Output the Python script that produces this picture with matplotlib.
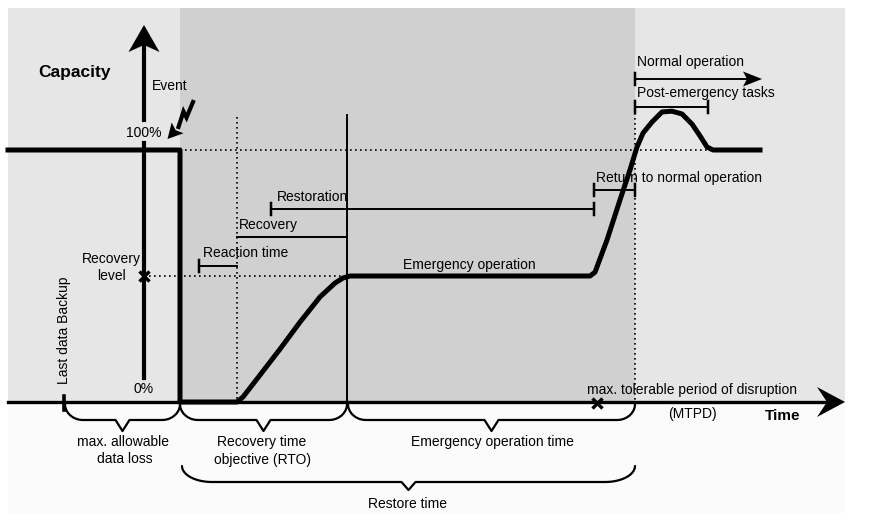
"""Business continuity timeline: capacity over time after an event."""

import numpy as np
import matplotlib as mpl
import matplotlib.pyplot as plt
from matplotlib.patches import Polygon, Rectangle

mpl.rcParams.update({
    "font.family": ["Liberation Sans", "DejaVu Sans"],
    "font.size": 10,
})

# ── data ──────────────────────────────────────────────────────────────
# time positions along the axis (px from the left of the picture)
T_START = 8
T_BACKUP = 64
T_EVENT = 180
T_REACT_START = 199
T_REACTION = 237
T_RESTORE_START = 271
T_RTO = 347
T_EMERG_END = 594
T_MTPD = 635
T_POST_END = 708
T_NORMAL_END = 762
T_AXIS_END = 845

CAP_FULL = 100
CAP_RECOVERY = 50

# capacity curve (time, capacity %)
CURVE_T = [8, 180, 180, 237, 243, 260, 280, 300, 320, 335, 343, 350,
           590, 595, 607, 620, 630, 637, 643, 652, 662, 672, 682, 692,
           700, 707, 713, 760]
CURVE_CAP = [100, 100, 0, 0, 2, 10.7, 21, 31.7, 41.7, 47.2, 49.2, 50,
             50, 51.5, 64.3, 80.2, 92.1, 101.2, 106.7, 111.1, 115.1, 115.4,
             114.3, 110.3, 105.6, 101.2, 100, 100]

# layout (px)
AXIS_Y = 402
PX_PER_PCT = 2.52
TOP = 8
Y_AXIS_X = 144
W, H = 876, 521


def cy(c):
    return AXIS_Y - np.asarray(c, dtype=float) * PX_PER_PCT


def head(ax, tip, d, length, half, notch, color="black"):
    d = np.asarray(d, float) / np.hypot(*d)
    n = np.array([-d[1], d[0]])
    tip = np.asarray(tip, float)
    base = tip - d * length
    pts = [tip, base + n * half, tip - d * (length - notch), base - n * half]
    ax.add_patch(Polygon(pts, closed=True, color=color, lw=0, zorder=6))


def brace(ax, x0, x1, y0, h, r, tip, v, lw=1.6):
    xm = (x0 + x1) / 2
    th = np.linspace(0, np.pi / 2, 30)
    lx = x0 + r * (1 - np.cos(th))
    ly = y0 + h * np.sin(th)
    rx = x1 - r * (1 - np.cos(th))
    xs = np.concatenate([lx, [xm - v, xm, xm + v], rx[::-1]])
    ys = np.concatenate([ly, [y0 + h, y0 + h + tip, y0 + h], ly[::-1]])
    ax.plot(xs, ys, color="black", lw=lw, solid_capstyle="round", zorder=5)


def bracket(ax, x0, x1, y, left=True, right=True, lw=1.4, t=6):
    ax.plot([x0, x1], [y, y], color="black", lw=lw, zorder=5)
    if left:
        ax.plot([x0, x0], [y - t, y + t], color="black", lw=lw + 0.4, zorder=5)
    if right:
        ax.plot([x1, x1], [y - t, y + t], color="black", lw=lw + 0.4, zorder=5)


def main():
    fig = plt.figure(figsize=(W / 100, H / 100), dpi=100)
    ax = fig.add_axes([0, 0, 1, 1])
    ax.set_xlim(0, W)
    ax.set_ylim(H, 0)
    ax.axis("off")

    # backgrounds
    ax.add_patch(Rectangle((T_START, TOP), T_AXIS_END - T_START, AXIS_Y - TOP,
                           color="#e6e6e6", lw=0, zorder=0))
    ax.add_patch(Rectangle((T_EVENT, TOP), T_MTPD - T_EVENT, AXIS_Y - TOP,
                           color="#d0d0d0", lw=0, zorder=0))
    ax.add_patch(Rectangle((T_START, AXIS_Y), T_AXIS_END - T_START, 111,
                           color="#fbfbfb", lw=0, zorder=0))

    # guides
    dot = dict(color="black", lw=1.2, ls=(0, (1, 2)), zorder=2)
    ax.plot([T_EVENT, T_POST_END], cy([CAP_FULL, CAP_FULL]), **dot)
    ax.plot([Y_AXIS_X, T_RTO], cy([CAP_RECOVERY, CAP_RECOVERY]), **dot)
    ax.plot([T_REACTION, T_REACTION], [117, AXIS_Y], **dot)
    ax.plot([T_MTPD, T_MTPD], [113, AXIS_Y], **dot)
    ax.plot([T_RTO, T_RTO], [115, AXIS_Y], color="black", lw=1.4, zorder=2)

    # capacity curve
    ax.plot(CURVE_T, cy(CURVE_CAP), color="black", lw=3.6,
            solid_joinstyle="round", zorder=4)

    # axes
    ax.plot([T_START, T_AXIS_END - 20], [AXIS_Y, AXIS_Y], color="black", lw=2.4, zorder=5)
    head(ax, (T_AXIS_END, AXIS_Y), (1, 0), 28, 15, 10)
    ax.plot([Y_AXIS_X, Y_AXIS_X], [378, 143], color="black", lw=3, zorder=5)
    ax.plot([Y_AXIS_X, Y_AXIS_X], [120, 46], color="black", lw=3, zorder=5)
    head(ax, (Y_AXIS_X, 25), (0, -1), 27, 15.5, 7)

    ax.text(38, 72, "Capacity", fontsize=12.5, fontweight="bold", va="center")
    ax.text(765, 416, "Time", fontsize=11, fontweight="bold", va="center")
    ax.text(Y_AXIS_X, 133, "100%", ha="center", va="center")
    ax.text(Y_AXIS_X, 389, "0%", ha="center", va="center")

    # event + lightning bolt
    ax.text(152, 86, "Event", va="center")
    ax.plot([193, 186.5, 183.5, 178.5], [102, 117.5, 111.5, 127], color="black",
            lw=3, solid_joinstyle="miter", zorder=6)
    head(ax, (167.5, 139), (-1, 1.1), 15, 8, 3)

    # recovery level
    ax.plot([Y_AXIS_X], cy([CAP_RECOVERY]), marker="x", color="black", ms=7,
            mew=2.4, zorder=6)
    ax.text(111, 259, "Recovery", ha="center", va="center")
    ax.text(111, 276, "level", ha="center", va="center")

    # last backup
    ax.plot([T_BACKUP, T_BACKUP], [396, 410], color="black", lw=2.6, zorder=6)
    ax.text(T_BACKUP, 330, "Last data Backup", rotation=90,
            ha="center", va="center")

    # brackets
    bracket(ax, T_REACT_START, T_REACTION, 266, right=False)
    ax.text(203, 253, "Reaction time", va="center")
    bracket(ax, T_REACTION, T_RTO, 237, left=False, right=False)
    ax.text(239, 225, "Recovery", va="center")
    bracket(ax, T_RESTORE_START, T_EMERG_END, 209)
    ax.text(T_RTO + 1, 197, "Restoration", ha="right", va="center")
    bracket(ax, T_EMERG_END, T_MTPD, 190)
    ax.text(596, 178, "Return to normal operation", va="center")
    bracket(ax, T_MTPD, T_POST_END, 107)
    ax.text(637, 93, "Post-emergency tasks", va="center")
    bracket(ax, T_MTPD, T_NORMAL_END - 14, 79, right=False)
    head(ax, (T_NORMAL_END, 79), (1, 0), 19, 7.5, 4)
    ax.text(637, 62, "Normal operation", va="center")
    ax.text(469, 265, "Emergency operation", ha="center", va="center")

    # MTPD
    ax.plot([597], [AXIS_Y + 1], marker="x", color="black", ms=7, mew=2.4, zorder=6)
    ax.text(692, 390, "max. tolerable period of disruption", ha="center", va="center")
    ax.text(692, 414, "(MTPD)", ha="center", va="center")

    # braces below the axis
    brace(ax, T_BACKUP + 1, T_EVENT, AXIS_Y + 2, 16, 18, 11, 7)
    brace(ax, T_EVENT, T_RTO, AXIS_Y + 2, 16, 18, 11, 7)
    brace(ax, T_RTO + 1, T_MTPD, AXIS_Y + 2, 16, 18, 11, 7)
    brace(ax, T_EVENT + 2, T_MTPD, 466, 16, 30, 8, 7)

    ax.text(123, 442, "max. allowable", ha="center", va="center")
    ax.text(125, 459, "data loss", ha="center", va="center")
    ax.text(262, 442, "Recovery time", ha="center", va="center")
    ax.text(263, 460, "objective (RTO)", ha="center", va="center")
    ax.text(492, 442, "Emergency operation time", ha="center", va="center")
    ax.text(408, 504, "Restore time", ha="center", va="center")

    fig.savefig("out.png", dpi=100, facecolor="white")
    plt.close(fig)


if __name__ == "__main__":
    main()
